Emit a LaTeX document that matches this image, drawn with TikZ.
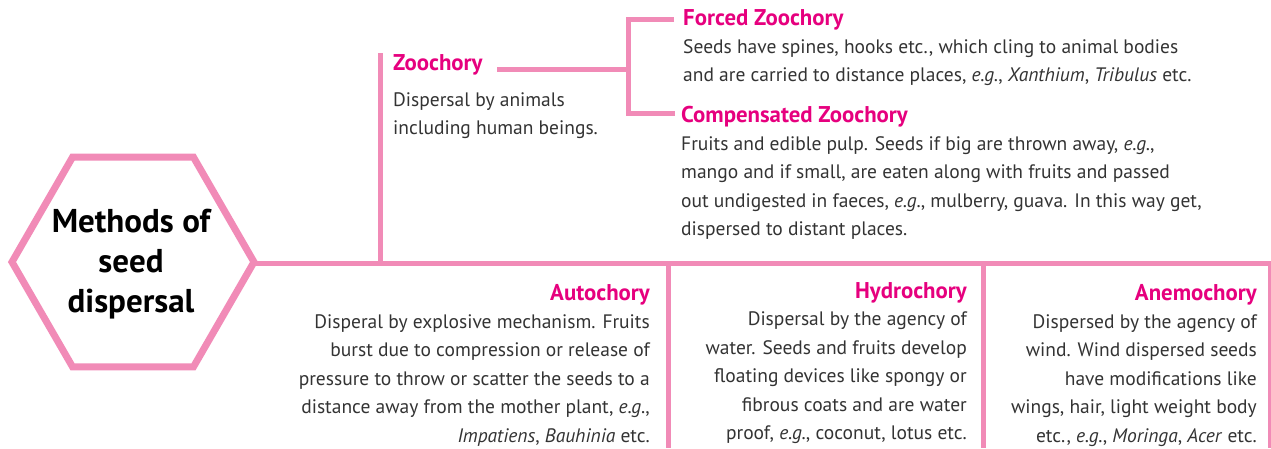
\documentclass[tikz,border=0pt]{standalone}
\usepackage{fontspec}
\setmainfont{PT Sans}
\usetikzlibrary{shadows}
\definecolor{linepink}{HTML}{F18BB7}
\definecolor{titlemag}{HTML}{E6007E}
\definecolor{bodygray}{HTML}{333333}
\newcommand\bodyf{\fontsize{19.5}{28.5}\selectfont}
\newcommand\titlef{\fontsize{22.8}{24}\selectfont\bfseries}
\newcommand\hexf{\fontsize{33}{40}\selectfont\bfseries}
\tikzset{
  conn/.style={draw=linepink,line width=5pt},
  thinconn/.style={draw=linepink,line width=3pt},
  hexline/.style={draw=linepink,line width=7pt,fill=white,line join=miter},
  ttlL/.style={anchor=base west,inner sep=0pt,text=titlemag,font=\titlef},
  ttlR/.style={anchor=base east,inner sep=0pt,text=titlemag,font=\titlef},
  bodyL/.style={anchor=base west,inner sep=0pt,text=bodygray,font=\bodyf},
  bodyR/.style={anchor=base east,inner sep=0pt,text=bodygray,font=\bodyf},
}
\newcommand\lbox[2]{\parbox[t]{#1}{\raggedright #2}}
\newcommand\rbox[2]{\parbox[t]{#1}{\raggedleft #2}}
\begin{document}
\begin{tikzpicture}[x=1pt,y=-1pt]
\useasboundingbox (0,0) rectangle (1271,448);
% main connectors
\coordinate (hexC) at (133,262);
\coordinate (hexE) at (254,262);
\coordinate (mainEnd) at (1271,263);
\coordinate (zooBase) at (380,263);
\coordinate (zooTop) at (380,53);
\coordinate (zooLineStart) at (497,69.5);
\coordinate (brMid) at (628,69.5);
\coordinate (brTop) at (628,19.5);
\coordinate (brBot) at (628,113.5);
\coordinate (forcedEnd) at (674,19.5);
\coordinate (compEnd) at (675,113.5);
\coordinate (div1) at (668,263);
\coordinate (div1b) at (668,448);
\coordinate (div2) at (983,263);
\coordinate (div2b) at (983,448);
\coordinate (div3) at (1269.5,263);
\coordinate (div3b) at (1269.5,448);

\draw[conn] (hexE) -- (hexE |- mainEnd) -- (mainEnd);
\draw[conn] (zooBase) -- (zooTop);
\draw[conn] (zooLineStart) -- (brMid);
\draw[conn] (forcedEnd) -- (brTop) -- (brBot) -- (compEnd);
\draw[conn] (div1) -- (div1b);
\draw[conn] (div2) -- (div2b);
\draw[thinconn] (div3) -- (div3b);

% hexagon
\draw[hexline, drop shadow={opacity=0.18, shadow xshift=1.5pt, shadow yshift=-1.5pt}] (hexC) ++(0:121) -- ++(120:121) -- ++(180:121) -- ++(240:121) -- ++(300:121) -- ++(0:121) -- cycle;
\node[inner sep=0pt,align=center,font=\hexf,text=black] (hex) at (131,264) {Methods of\\seed\\dispersal};

% Zoochory
\node[ttlL] (zooT) at (393,70) {Zoochory};
\node[bodyL] (zooB) at (393,106) {\lbox{250pt}{Dispersal by animals\\including human beings.}};

% Forced
\node[ttlL] (forT) at (683,25) {Forced Zoochory};
\node[bodyL] (forB) at (683,53) {\lbox{580pt}{Seeds have spines, hooks etc., which cling to animal bodies\\and are carried to distance places, \textit{e.g.}, \textit{Xanthium}, \textit{Tribulus} etc.}};

% Compensated
\node[ttlL] (comT) at (681,122) {Compensated Zoochory};
\node[bodyL] (comB) at (681,150) {\lbox{580pt}{Fruits and edible pulp. Seeds if big are thrown away, \textit{e.g.},\\mango and if small, are eaten along with fruits and passed\\out undigested in faeces, \textit{e.g.}, mulberry, guava. In this way get,\\dispersed to distant places.}};

% Autochory
\node[ttlR] (autT) at (650,300) {Autochory};
\node[bodyR] (autB) at (650,328) {\rbox{380pt}{Disperal by explosive mechanism. Fruits\\burst due to compression or release of\\pressure to throw or scatter the seeds to a\\distance away from the mother plant, \textit{e.g.},\\\textit{Impatiens}, \textit{Bauhinia} etc.}};

% Hydrochory
\node[ttlR] (hydT) at (967,298) {Hydrochory};
\node[bodyR] (hydB) at (967,325.5) {\rbox{300pt}{Dispersal by the agency of\\water. Seeds and fruits develop\\floating devices like spongy or\\fibrous coats and are water\\proof, \textit{e.g.}, coconut, lotus etc.}};

% Anemochory
\node[ttlR] (aneT) at (1257,300) {Anemochory};
\node[bodyR] (aneB) at (1257,328) {\rbox{300pt}{Dispersed by the agency of\\wind. Wind dispersed seeds\\have modifications like\\wings, hair, light weight body\\etc., \textit{e.g.}, \textit{Moringa}, \textit{Acer} etc.}};
\end{tikzpicture}
\end{document}
